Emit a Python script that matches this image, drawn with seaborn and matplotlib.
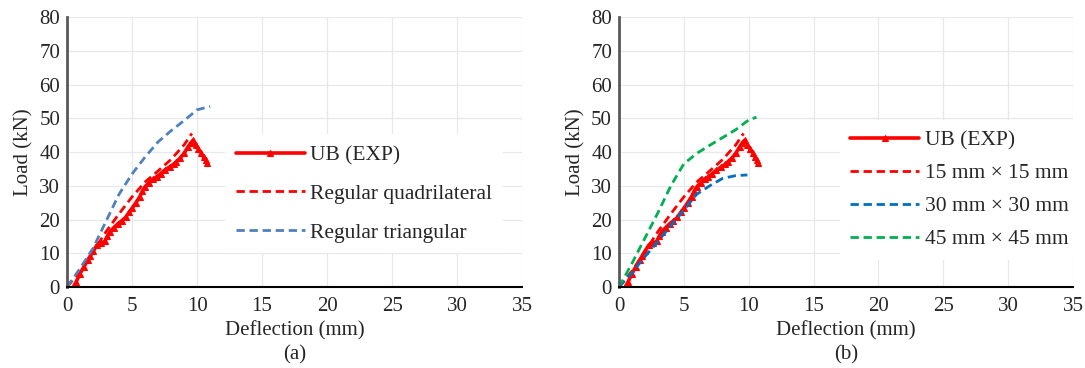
import pandas as pd
import matplotlib
matplotlib.use("Agg")
import matplotlib.pyplot as plt
import seaborn as sns

# experimental curve (shared by both panels)
ub_x = [0.5, 0.7, 1.0, 1.3, 1.6, 1.8, 2.0, 2.3, 2.6, 2.9, 3.1, 3.3, 3.6, 3.9, 4.2,
        4.5, 4.8, 5.0, 5.3, 5.6, 5.8, 6.0, 6.3, 6.6, 6.9, 7.2, 7.5, 7.9, 8.2, 8.4,
        8.7, 9.0, 9.3, 9.5, 9.7, 9.9, 10.1, 10.3, 10.5, 10.65, 10.75]
ub_y = [0.1, 1.5, 4.0, 6.0, 8.0, 9.3, 10.6, 12.4, 13.0, 13.5, 15.0, 16.4, 17.6, 18.7, 19.6,
        20.6, 22.3, 23.3, 25.0, 26.8, 28.4, 29.7, 30.9, 31.9, 32.7, 33.6, 34.6, 35.6, 36.4, 37.1,
        38.2, 39.6, 41.5, 42.6, 43.5, 42.2, 41.0, 39.8, 38.5, 37.5, 36.6]

# (a) mesh shape
quad_x = [0, 1, 2, 3, 4, 5, 6, 7, 8, 9, 9.6]
quad_y = [0, 4.7, 10.5, 16.4, 21.7, 26.7, 31.1, 34.4, 37.8, 42.1, 45.5]
tri_x = [0, 1, 2, 3, 4, 5, 6, 7, 8, 9, 10, 11.0]
tri_y = [0, 5.5, 11.5, 19.5, 27.5, 33.5, 38.5, 43.0, 46.3, 49.3, 52.5, 53.5]

# (b) mesh size
m15_x = quad_x
m15_y = quad_y
m30_x = [0, 1, 2, 3, 4, 5, 6, 7, 8, 9, 9.9]
m30_y = [0, 4.2, 9.0, 13.5, 18.2, 22.8, 27.5, 30.0, 32.2, 33.0, 33.2]
m45_x = [0, 1, 2, 3, 4, 5, 6, 7, 8, 9, 10, 10.6]
m45_y = [0, 7.0, 14.5, 22.0, 30.0, 36.5, 39.6, 42.0, 44.3, 46.6, 49.5, 50.3]

sns.set_style("white")
plt.rcParams['font.family'] = ['Liberation Serif', 'DejaVu Serif']

fig = plt.figure(figsize=(10.85, 3.68), dpi=100)
ax_a = fig.add_axes([0.0618, 0.2201, 0.4194, 0.7337])
ax_b = fig.add_axes([0.5705, 0.2201, 0.4184, 0.7337])

dash = (0, (3, 1.7))


def plot_ub(ax):
    df = pd.DataFrame({"x": ub_x, "y": ub_y})
    sns.lineplot(data=df, x="x", y="y", ax=ax, sort=False, color="#ff0000",
                 linewidth=2.6, marker="^", markersize=4.5, markeredgewidth=0.8,
                 markeredgecolor="#ff0000", label="UB (EXP)")


def plot_dashed(ax, xs, ys, color, label):
    df = pd.DataFrame({"x": xs, "y": ys})
    sns.lineplot(data=df, x="x", y="y", ax=ax, sort=False, color=color,
                 linewidth=2, linestyle=dash, label=label)


plot_ub(ax_a)
plot_dashed(ax_a, quad_x, quad_y, "#ff0000", "Regular quadrilateral")
plot_dashed(ax_a, tri_x, tri_y, "#4f81bd", "Regular triangular")

plot_ub(ax_b)
plot_dashed(ax_b, m15_x, m15_y, "#ff0000", "15 mm \u00d7 15 mm")
plot_dashed(ax_b, m30_x, m30_y, "#0070c0", "30 mm \u00d7 30 mm")
plot_dashed(ax_b, m45_x, m45_y, "#00b050", "45 mm \u00d7 45 mm")

for ax, tag in [(ax_a, "(a)"), (ax_b, "(b)")]:
    ax.set_xlim(0, 35)
    ax.set_ylim(0, 80)
    ax.set_xticks(range(0, 36, 5))
    ax.set_yticks(range(0, 81, 10))
    ax.grid(True, color="#e8e8e8", linewidth=0.9)
    ax.set_axisbelow(True)
    ax.tick_params(length=0, labelsize=15)
    ax.tick_params(axis="x", pad=7)
    ax.tick_params(axis="y", pad=5)
    for s in ["top", "right"]:
        ax.spines[s].set_visible(False)
    ax.spines["left"].set_color("#595959")
    ax.spines["left"].set_linewidth(2)
    ax.spines["bottom"].set_color("black")
    ax.spines["bottom"].set_linewidth(1.5)
    ax.set_xlabel("Deflection (mm)", fontsize=15, labelpad=4)
    ax.set_ylabel("Load (kN)", fontsize=15, labelpad=4)
    pos = ax.get_position()
    fig.text(pos.x0 + pos.width / 2, 0.035, tag, ha="center", va="center", fontsize=15)

leg_kw = dict(loc="center left", fontsize=15.5, frameon=True, facecolor="white",
              edgecolor="none", framealpha=1, fancybox=False, borderaxespad=0,
              borderpad=0.5, handlelength=3.2, handletextpad=0.25, numpoints=1)
ax_a.legend(bbox_to_anchor=(0.347, 0.345), labelspacing=0.87, **leg_kw)
ax_b.legend(bbox_to_anchor=(0.486, 0.36), labelspacing=0.6, **leg_kw)

fig.savefig("out.png", dpi=100)
